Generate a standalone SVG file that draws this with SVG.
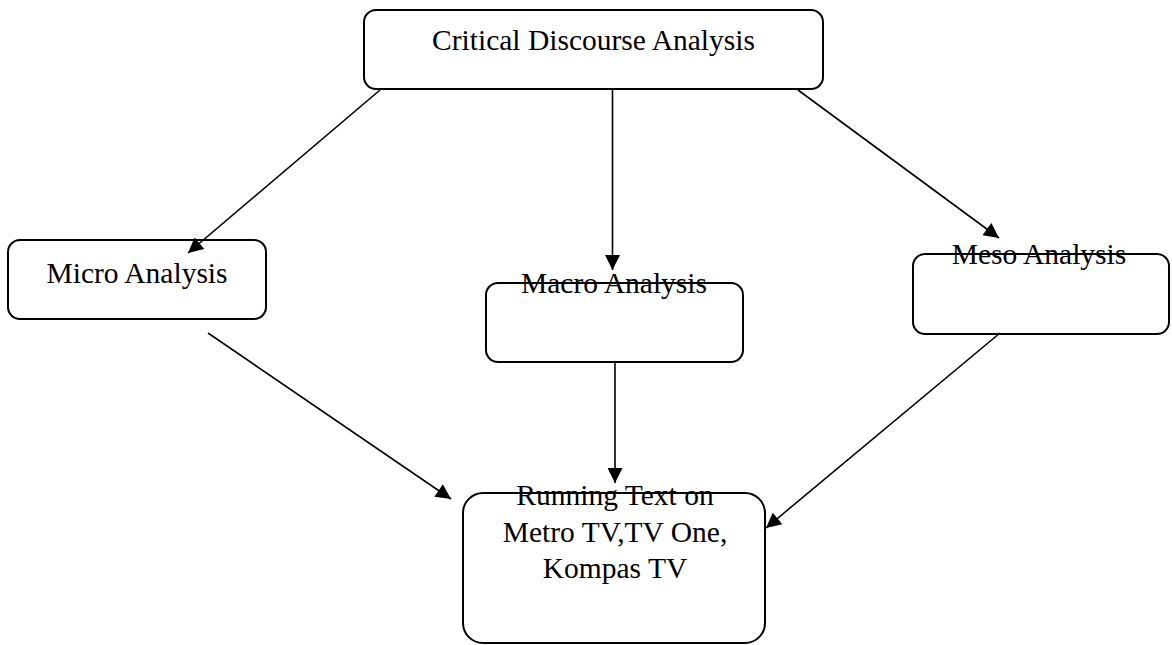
<svg xmlns="http://www.w3.org/2000/svg" width="1172" height="645" viewBox="0 0 1172 645">
<style>
.box{fill:none;stroke:#000;stroke-width:2}
.lbl{font-family:"Liberation Serif","Times New Roman",serif;font-size:29.5px;fill:#000;text-anchor:middle}
.ln{stroke:#000;stroke-width:1.6;fill:none}
</style>
<defs>
<marker id="ah" viewBox="0 0 10 10" refX="10" refY="5" markerWidth="17" markerHeight="15" markerUnits="userSpaceOnUse" orient="auto">
<path d="M0,0 L10,5 L0,10 z" fill="#000"/>
</marker>
</defs>
<rect width="1172" height="645" fill="#fff"/>
<g id="connectors">
<line class="ln" x1="380" y1="90" x2="188" y2="253" marker-end="url(#ah)"/>
<line class="ln" x1="612.5" y1="89" x2="612.5" y2="270" marker-end="url(#ah)"/>
<line class="ln" x1="798" y1="90" x2="999" y2="238" marker-end="url(#ah)"/>
<line class="ln" x1="208" y1="333" x2="451" y2="499" marker-end="url(#ah)"/>
<line class="ln" x1="615" y1="362" x2="615" y2="483" marker-end="url(#ah)"/>
<line class="ln" x1="1000" y1="333" x2="766" y2="528" marker-end="url(#ah)"/>
</g>
<g id="cda">
<rect class="box" x="364" y="10" width="459" height="79" rx="12"/>
<text class="lbl" x="593.5" y="50">Critical Discourse Analysis</text>
</g>
<g id="micro">
<rect class="box" x="8" y="240" width="258" height="79" rx="12"/>
<text class="lbl" x="137" y="283">Micro Analysis</text>
</g>
<g id="macro">
<rect class="box" x="486" y="283" width="257" height="79" rx="12"/>
<text class="lbl" x="614" y="293">Macro Analysis</text>
</g>
<g id="meso">
<rect class="box" x="913" y="254" width="256" height="80" rx="12"/>
<text class="lbl" x="1039" y="264">Meso Analysis</text>
</g>
<g id="running">
<rect class="box" x="463" y="493" width="302" height="150" rx="20"/>
<text class="lbl" x="615" y="505">Running Text on</text>
<text class="lbl" x="615" y="542">Metro TV,TV One,</text>
<text class="lbl" x="615" y="578">Kompas TV</text>
</g>
</svg>
